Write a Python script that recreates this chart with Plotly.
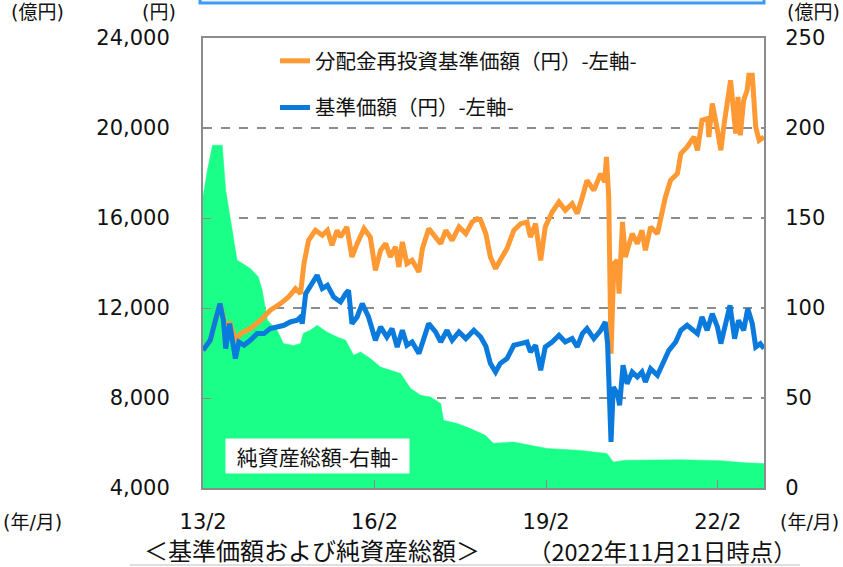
import plotly.graph_objects as go
import pandas as pd

# ---------------- data (decimal years) ----------------
nav_years = [2013.083, 2013.21, 2013.30, 2013.38, 2013.44, 2013.48, 2013.55, 2013.59, 2013.65, 2013.71,
             2013.80, 2013.91, 2014.03, 2014.15, 2014.26, 2014.38, 2014.50, 2014.61, 2014.73, 2014.79,
             2014.82, 2014.88, 2014.96, 2015.08, 2015.17, 2015.26, 2015.37, 2015.49, 2015.58, 2015.63,
             2015.69, 2015.78, 2015.87, 2015.98, 2016.10, 2016.19, 2016.30, 2016.39, 2016.48, 2016.57,
             2016.65, 2016.74, 2016.86, 2016.95, 2017.03, 2017.15, 2017.24, 2017.35, 2017.44, 2017.56,
             2017.68, 2017.82, 2017.94, 2018.03, 2018.11, 2018.20, 2018.28, 2018.40, 2018.52, 2018.64,
             2018.75, 2018.81, 2018.90, 2018.99, 2019.07, 2019.19, 2019.31, 2019.42, 2019.54, 2019.63,
             2019.72, 2019.80, 2019.92, 2020.04, 2020.12, 2020.16, 2020.22, 2020.26, 2020.33, 2020.37,
             2020.43, 2020.50, 2020.59, 2020.68, 2020.76, 2020.82, 2020.91, 2021.03, 2021.14, 2021.23,
             2021.35, 2021.44, 2021.55, 2021.73, 2021.81, 2021.90, 2021.99, 2022.08, 2022.14, 2022.22,
             2022.30, 2022.38, 2022.45, 2022.54, 2022.61, 2022.69, 2022.75, 2022.83, 2022.895]
nav_values = [10120, 10565, 11454, 12196, 11454, 10197, 11307, 10712, 9752, 10490,
              10343, 10565, 10862, 10862, 11085, 11158, 11232, 11380, 11454, 11601,
              11306, 12640, 12935, 13455, 12863, 13010, 12490, 12268, 12640, 12787,
              11306, 11601, 12196, 11601, 10565, 11158, 10712, 11085, 10268, 11010,
              10343, 10490, 9975, 10712, 11306, 10936, 10490, 11010, 10565, 10936,
              10640, 11010, 10712, 10300, 9530, 9156, 9530, 9752, 10343, 10417,
              10490, 10046, 10343, 9232, 10268, 10490, 10788, 10490, 10640, 10268,
              10862, 11085, 10640, 11010, 11380, 10417, 6047, 8490, 8194, 7676,
              9454, 8638, 9158, 8935, 9158, 8712, 9306, 9010, 9677, 10120,
              10490, 11010, 11232, 10862, 11601, 11010, 11750, 11158, 10417, 11306,
              12120, 10640, 11454, 11010, 11974, 11306, 10268, 10417, 10195]

reinv_years = [2013.083, 2013.21, 2013.30, 2013.38, 2013.44, 2013.48, 2013.55, 2013.59, 2013.65, 2013.74,
               2013.91, 2014.09, 2014.26, 2014.44, 2014.58, 2014.70, 2014.79, 2014.85, 2014.93, 2015.05,
               2015.17, 2015.26, 2015.34, 2015.43, 2015.49, 2015.60, 2015.69, 2015.78, 2015.90, 2016.01,
               2016.10, 2016.19, 2016.28, 2016.36, 2016.45, 2016.51, 2016.57, 2016.65, 2016.74, 2016.86,
               2016.92, 2017.03, 2017.15, 2017.24, 2017.33, 2017.44, 2017.56, 2017.68, 2017.79, 2017.88,
               2017.94, 2018.03, 2018.11, 2018.20, 2018.28, 2018.40, 2018.52, 2018.64, 2018.75, 2018.81,
               2018.90, 2018.99, 2019.07, 2019.19, 2019.31, 2019.42, 2019.54, 2019.63, 2019.72, 2019.80,
               2019.92, 2020.04, 2020.11, 2020.14, 2020.18, 2020.22, 2020.27, 2020.33, 2020.36, 2020.42,
               2020.47, 2020.59, 2020.68, 2020.76, 2020.82, 2020.91, 2021.03, 2021.11, 2021.17, 2021.26,
               2021.38, 2021.44, 2021.55, 2021.67, 2021.73, 2021.81, 2021.91, 2021.93, 2021.99, 2022.08,
               2022.14, 2022.19, 2022.25, 2022.31, 2022.40, 2022.44, 2022.48, 2022.54, 2022.60, 2022.63,
               2022.69, 2022.75, 2022.81, 2022.895]
reinv_values = [10120, 10565, 11454, 12196, 11600, 11000, 11380, 11000, 10565, 10862,
                11085, 11454, 11899, 12196, 12490, 12863, 12640, 13974, 15008, 15453,
                15230, 15453, 14787, 15453, 15156, 15601, 14268, 14862, 15527, 15156,
                13676, 14565, 14862, 14268, 14713, 13823, 14935, 13974, 14120, 13601,
                14640, 15527, 15156, 14862, 15453, 15008, 15601, 15304, 15823, 15972,
                15898, 15300, 14268, 13750, 14120, 14640, 15453, 15750, 15823, 15156,
                15750, 14120, 15601, 16268, 16712, 16343, 16640, 16195, 16935, 17676,
                17231, 17973, 17601, 18713, 16935, 9973, 13974, 14120, 12640, 15823,
                14268, 15305, 14862, 15453, 14565, 15601, 15305, 16268, 16935, 17676,
                17973, 18861, 19157, 19601, 19009, 20343, 20417, 19601, 21085, 19898,
                19009, 20045, 21231, 22120, 19750, 21380, 19676, 21231, 21676, 22343,
                22343, 20045, 19453, 19601]

assets_years = [2013.083, 2013.16, 2013.25, 2013.42, 2013.48, 2013.59, 2013.68, 2013.77, 2013.91, 2014.05,
                2014.12, 2014.21, 2014.38, 2014.49, 2014.67, 2014.79, 2014.84, 2014.96, 2015.08, 2015.25,
                2015.43, 2015.58, 2015.72, 2015.84, 2016.01, 2016.19, 2016.54, 2016.71, 2016.89, 2017.06,
                2017.24, 2017.29, 2017.53, 2017.76, 2018.02, 2018.16, 2018.51, 2018.81, 2019.10, 2019.69,
                2020.15, 2020.26, 2020.47, 2021.44, 2022.13, 2022.57, 2022.895]
assets_values = [161.7, 176.5, 190.4, 190.4, 165.4, 143.2, 126.5, 124.8, 122.0, 117.3,
                 109.8, 93.2, 87.6, 80.3, 79.2, 80.3, 86.0, 87.6, 90.4, 86.7,
                 83.9, 82.1, 73.7, 75.6, 72.0, 67.2, 63.6, 55.4, 51.5, 50.6,
                 47.0, 37.6, 35.8, 33.0, 29.3, 24.8, 25.6, 23.7, 22.0, 20.9,
                 19.2, 14.4, 15.4, 15.7, 15.2, 14.0, 13.6]

x_tick_dates = ["2013-02-01", "2016-02-01", "2019-02-01", "2022-02-01"]
x_tick_labels = ["13/2", "16/2", "19/2", "22/2"]
yen_ticks = [4000, 8000, 12000, 16000, 20000, 24000]
right_ticks = [0, 50, 100, 150, 200, 250]
outer_left_ticks = [0, 30, 60, 90, 120, 150]


def to_date(y):
    year = int(y)
    start = pd.Timestamp(year, 1, 1)
    return start + (pd.Timestamp(year + 1, 1, 1) - start) * (y - year)


nav_x = [to_date(v) for v in nav_years]
reinv_x = [to_date(v) for v in reinv_years]
assets_x = [to_date(v) for v in assets_years]

W, H = 843, 567
PX0, PX1, PY0, PY1 = 203, 764, 38, 488
GREY = "#8c8c8c"
NUM_FONT = dict(family="DejaVu Sans", size=21, color="#111111")
JP = "Noto Sans CJK JP"
MIX = "DejaVu Sans, Noto Sans CJK JP"

fig = go.Figure()
fig.add_trace(go.Scatter(x=assets_x, y=assets_values, mode="lines", yaxis="y",
                         line=dict(color="#1aff88", width=0.5), fill="tozeroy",
                         fillcolor="#1aff88", showlegend=False, name="純資産総額"))
fig.add_trace(go.Scatter(x=reinv_x, y=reinv_values, mode="lines", yaxis="y2",
                         line=dict(color="#ff9933", width=5), legendgroup="a",
                         name="分配金再投資基準価額（円）-左軸-"))
fig.add_trace(go.Scatter(x=nav_x, y=nav_values, mode="lines", yaxis="y2",
                         line=dict(color="#0a7bdc", width=5), legendgroup="b",
                         name="基準価額（円）-左軸-"))

fig.update_layout(
    width=W, height=H, autosize=False, template="none",
    margin=dict(l=0, r=0, t=0, b=0),
    paper_bgcolor="white", plot_bgcolor="white",
    xaxis=dict(type="date", domain=[PX0 / W, PX1 / W], anchor="y",
               range=[to_date(2013.083), to_date(2022.895)],
               tickvals=x_tick_dates, ticktext=x_tick_labels,
               ticks="inside", ticklen=8, tickcolor=GREY, tickwidth=1,
               showline=True, linecolor=GREY, linewidth=2, mirror=True,
               showgrid=False, zeroline=False, automargin=False,
               tickfont=NUM_FONT, ticklabelstandoff=14),
    yaxis=dict(domain=[1 - PY1 / H, 1 - PY0 / H], anchor="x", side="right",
               range=[0, 250], tickvals=right_ticks, ticks="",
               showgrid=True, gridcolor=GREY, griddash="dash", gridwidth=1.5,
               showline=True, linecolor=GREY, linewidth=2, zeroline=False,
               automargin=False, tickfont=NUM_FONT, ticklabelstandoff=15),
    yaxis2=dict(overlaying="y", anchor="x", side="left", range=[4000, 24000],
                tickvals=yen_ticks, tickformat=",", ticks="inside", ticklen=8,
                tickcolor=GREY, showline=True, linecolor=GREY, linewidth=2,
                showgrid=False, zeroline=False, automargin=False,
                tickfont=NUM_FONT, ticklabelstandoff=27),
    yaxis3=dict(overlaying="y", anchor="free", position=0.0, side="left",
                ticklabelposition="inside", range=[0, 150], tickvals=outer_left_ticks,
                ticks="", showline=False, showgrid=False, zeroline=False,
                automargin=False, tickfont=NUM_FONT),
    showlegend=True,
    legend=dict(x=275 / W, y=1 - 41 / H, xanchor="left", yanchor="top",
                bgcolor="rgba(0,0,0,0)", font=dict(family=JP, size=20.5, color="#111111"),
                tracegroupgap=17, traceorder="grouped"),
)

ann_font = dict(family=MIX, size=19, color="#111111")
annotations = [
    dict(text="(億円)", x=9 / W, y=1 - 12 / H, xanchor="left"),
    dict(text="(円)", x=178 / W, y=1 - 12 / H, xanchor="right"),
    dict(text="(億円)", x=842 / W, y=1 - 12 / H, xanchor="right"),
    dict(text="(年/月)", x=1 / W, y=1 - 522 / H, xanchor="left"),
    dict(text="(年/月)", x=841 / W, y=1 - 522 / H, xanchor="right"),
]
for a in annotations:
    fig.add_annotation(xref="paper", yref="paper", showarrow=False, yanchor="middle",
                       font=ann_font, **a)
fig.add_annotation(xref="paper", yref="paper", showarrow=False, x=142 / W, y=1 - 549 / H,
                   xanchor="left", yanchor="middle", text="＜基準価額および純資産総額＞",
                   font=dict(family=JP, size=24, color="#111111"))
fig.add_annotation(xref="paper", yref="paper", showarrow=False, x=526 / W, y=1 - 551 / H,
                   xanchor="left", yanchor="middle", text="（2022年11月21日時点）",
                   font=dict(family=JP, size=23.5, color="#111111"))
fig.add_annotation(xref="paper", yref="paper", showarrow=False, x=225 / W, y=1 - 456 / H,
                   xanchor="left", yanchor="middle", text="純資産総額-右軸-",
                   bgcolor="white", borderpad=2, width=179, align="center",
                   font=dict(family=JP, size=21, color="#111111"))

# decorative frame pieces
fig.add_shape(type="rect", xref="paper", yref="paper", x0=200 / W, x1=764 / W,
              y0=1 - 3 / H, y1=1.1, line=dict(color="#3d9bf2", width=3),
              fillcolor="#eaf4ff", layer="above")
fig.add_shape(type="line", xref="paper", yref="paper", x0=130 / W, x1=800 / W,
              y0=1 - 565 / H, y1=1 - 565 / H, line=dict(color="#d3d3d3", width=1.5))

fig.write_html("out.html", config={"displayModeBar": False},
               post_script="document.body.style.margin='0px';document.body.style.overflow='hidden';")
